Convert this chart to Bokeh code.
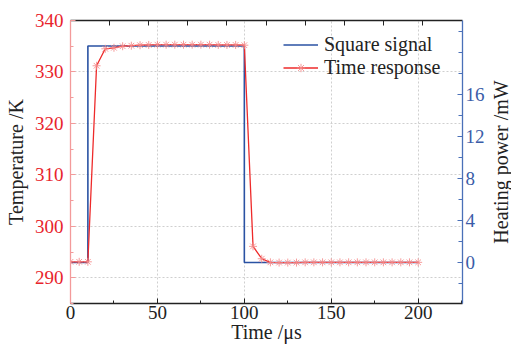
from bokeh.plotting import figure
from bokeh.layouts import row
from bokeh.models import (LinearAxis, Range1d, FixedTicker, Legend, LegendItem)
from bokeh.embed import file_html
from bokeh.resources import INLINE

# ---- data ----
square_t = [0, 10, 10, 100, 100, 200]
square_p = [0, 0, 20.57, 20.57, 0, 0]

time_t = [0, 5, 10, 15, 20, 25, 30, 35, 40, 45, 50, 55, 60, 65, 70, 75, 80, 85, 90, 95,
          100, 105, 110, 115, 120, 125, 130, 135, 140, 145, 150, 155, 160, 165, 170, 175,
          180, 185, 190, 195, 200]
temp_k = [293.1, 293.1, 293.1, 331.2, 334.5, 334.7, 335.0, 335.1, 335.2, 335.25, 335.3, 335.3,
          335.3, 335.3, 335.3, 335.3, 335.3, 335.25, 335.25, 335.25,
          335.2, 296.1, 293.7, 293.0, 292.95, 292.95, 292.95, 293.0, 293.0, 293.0, 293.0,
          293.0, 293.0, 293.0, 293.0, 293.0, 293.0, 293.0, 293.0, 293.0, 293.0]

x_major = [0, 50, 100, 150, 200]
x_minor = [25, 75, 125, 175, 225]
top_ticks = [22.5, 45, 67.5, 90, 112.5, 135, 157.5, 180, 202.5]
t_major = [290, 300, 310, 320, 330, 340]
t_minor = [285, 295, 305, 315, 325, 335]
p_major = [0, 4, 8, 12, 16]
p_minor = [-2, 2, 6, 10, 14, 18, 20, 22]

FONT = "Liberation Serif"
BLUE = "#2a52a3"
BLUE_AX = "#4a70b8"
RED = "#ee2a2a"
RED_AX = "#f39a9a"
RED_TXT = "#e8242c"

p = figure(width=487, height=347, output_backend="svg", toolbar_location=None,
           x_range=Range1d(0, 225.5), y_range=Range1d(285, 340),
           min_border_left=70, min_border_right=20, min_border_top=20, min_border_bottom=44)
p.extra_y_ranges = {"power": Range1d(-3.9, 23.0)}
p.outline_line_color = None
p.background_fill_color = "white"

# grids
p.xgrid.ticker = FixedTicker(ticks=x_major)
p.ygrid.ticker = FixedTicker(ticks=t_major)
for g in (p.xgrid, p.ygrid):
    g.grid_line_color = "#cfcfcf"
    g.grid_line_dash = "2 2"
    g.grid_line_width = 1

def style_axis(ax, line_color, label_color):
    ax.axis_line_color = line_color
    ax.axis_line_width = 1.3
    ax.major_tick_line_color = line_color
    ax.minor_tick_line_color = line_color
    ax.major_tick_in = 5
    ax.major_tick_out = 0
    ax.minor_tick_in = 3
    ax.minor_tick_out = 0
    ax.major_label_text_font = FONT
    ax.major_label_text_font_size = "19px"
    ax.major_label_text_color = label_color
    ax.axis_label_text_font = FONT
    ax.axis_label_text_font_size = "20px"
    ax.axis_label_text_font_style = "normal"
    ax.axis_label_text_color = "#222222"

# bottom axis
xa = p.xaxis[0]
xa.ticker = FixedTicker(ticks=x_major, minor_ticks=x_minor)
xa.axis_label = "Time /μs"
style_axis(xa, "#222222", "#222222")
xa.major_label_standoff = 2
xa.axis_label_standoff = -1

# left axis
ya = p.yaxis[0]
ya.ticker = FixedTicker(ticks=t_major, minor_ticks=t_minor)
ya.axis_label = "Temperature /K"
style_axis(ya, RED_AX, RED_TXT)
ya.major_label_standoff = 7
ya.axis_label_standoff = 5

# right axis (ticks + labels)
ra = LinearAxis(y_range_name="power",
                ticker=FixedTicker(ticks=p_major, minor_ticks=p_minor))
style_axis(ra, BLUE_AX, "#3a5ca8")
ra.minor_tick_in = 4
ra.major_label_standoff = 3
p.add_layout(ra, "right")

# top axis (frame line with ticks, no labels)
ta = LinearAxis(ticker=FixedTicker(ticks=[], minor_ticks=top_ticks))
style_axis(ta, "#222222", "#222222")
ta.minor_tick_in = 5
p.add_layout(ta, "above")

# data
sq = p.line(square_t, square_p, y_range_name="power", line_color=BLUE, line_width=1.6)
rl = p.line(time_t, temp_k, line_color=RED, line_width=1.3)
rs = p.scatter(time_t, temp_k, marker="asterisk", size=8, line_color="#f58a8a",
               line_width=1.0, line_alpha=0.85)

legend = Legend(items=[LegendItem(label="Square signal", renderers=[sq]),
                       LegendItem(label="Time response", renderers=[rl, rs])],
                location="top_right")
legend.border_line_color = None
legend.background_fill_alpha = 0
legend.label_text_font = FONT
legend.label_text_font_size = "20px"
legend.label_text_color = "#222222"
legend.glyph_width = 35
legend.glyph_height = 21
legend.label_height = 21
legend.label_width = 125
legend.label_standoff = 6
legend.spacing = -2
legend.padding = 2
legend.margin = 13
p.add_layout(legend)

# narrow strip carrying the right-hand axis title (reads bottom to top)
q = figure(width=24, height=347, output_backend="svg", toolbar_location=None,
           x_range=Range1d(0, 1), y_range=Range1d(-3.9, 23.0),
           x_axis_location=None, y_axis_location=None,
           min_border_left=0, min_border_right=0, min_border_top=20, min_border_bottom=44)
q.outline_line_color = None
q.grid.visible = False
qa = LinearAxis(ticker=FixedTicker(ticks=[], minor_ticks=[]), axis_label="Heating power /mW")
qa.axis_line_color = None
qa.major_tick_line_color = None
qa.minor_tick_line_color = None
qa.axis_label_text_font = FONT
qa.axis_label_text_font_size = "20px"
qa.axis_label_text_font_style = "normal"
qa.axis_label_text_color = "#222222"
qa.axis_label_standoff = 0
q.add_layout(qa, "left")

layout = row(p, q, spacing=0)
open("out.html", "w").write(file_html(layout, INLINE))
